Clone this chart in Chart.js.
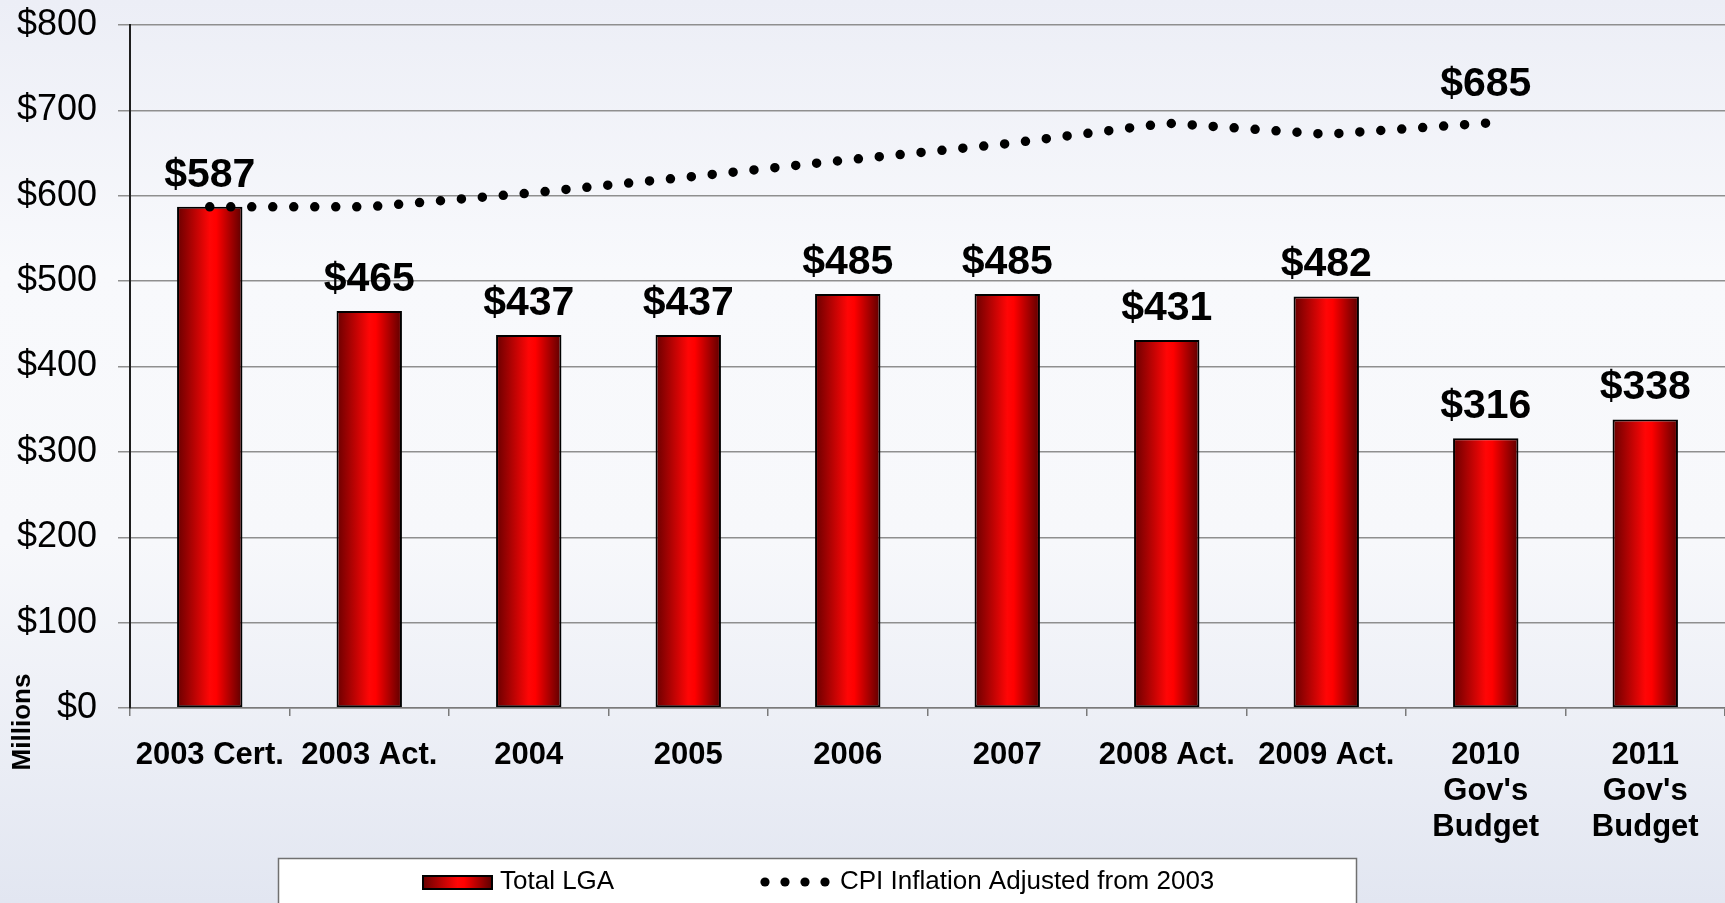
<!DOCTYPE html>
<html>
<head>
<meta charset="utf-8">
<title>Total LGA vs CPI Inflation</title>
<script src="https://cdn.jsdelivr.net/npm/chart.js@4.4.1/dist/chart.umd.min.js"></script>
<style>
  html, body { margin: 0; padding: 0; }
  body {
    width: 1725px;
    height: 903px;
    overflow: hidden;
    background: linear-gradient(to bottom, #eceef6 0%, #f8f9fc 30%, #f7f8fb 60%, #e2e6f1 100%);
  }
  #chartLGA { display: block; }
</style>
</head>
<body>
<canvas id="chartLGA" width="1725" height="903"></canvas>
<script>
const years = ['2003 Cert.', '2003 Act.', '2004', '2005', '2006', '2007', '2008 Act.', '2009 Act.',
    ['2010', "Gov's", 'Budget'], ['2011', "Gov's", 'Budget']];
const totalLGA = [587, 465, 437, 437, 485, 485, 431, 482, 316, 338];
const cpiAdjusted = [587, 587, 603, 622, 642, 661, 685, 672, 685, null];
const yTickLabels = ['$0', '$100', '$200', '$300', '$400', '$500', '$600', '$700', '$800'];

const fontFamily = "'Liberation Sans', Arial, Helvetica, sans-serif";
Chart.defaults.font.family = fontFamily;
Chart.defaults.color = '#000';

const barShare = 0.41;

function redGradient(ctx, x0, x1) {
    const g = ctx.createLinearGradient(x0, 0, x1, 0);
    g.addColorStop(0, '#6a0000');
    g.addColorStop(0.5, '#ff0606');
    g.addColorStop(0.6, '#ff0000');
    g.addColorStop(1, '#5c0000');
    return g;
}

function barFill(context) {
    const chart = context.chart;
    const xScale = chart.scales.x;
    if (!chart.chartArea || !xScale || context.dataIndex === undefined) {
        return '#ff0000';
    }
    const center = xScale.getPixelForValue(context.dataIndex);
    const half = xScale.width / years.length * barShare / 2;
    return redGradient(chart.ctx, center - half, center + half);
}

// value labels above bars and at the end of the CPI line
const valueLabels = {
    id: 'valueLabels',
    afterDatasetsDraw(chart) {
        const ctx = chart.ctx;
        ctx.save();
        ctx.font = 'bold 41px ' + fontFamily;
        ctx.fillStyle = '#000';
        ctx.textAlign = 'center';
        ctx.textBaseline = 'alphabetic';
        chart.getDatasetMeta(0).data.forEach(function (bar, i) {
            ctx.fillText('$' + totalLGA[i], bar.x, bar.y - 20);
        });
        let last = cpiAdjusted.length - 1;
        while (cpiAdjusted[last] === null) last--;
        const pt = chart.getDatasetMeta(1).data[last];
        ctx.fillText('$' + cpiAdjusted[last], pt.x, pt.y - 27);
        ctx.restore();
    }
};

// "Millions" unit label and the boxed legend at the bottom
const extras = {
    id: 'extras',
    afterDraw(chart) {
        const ctx = chart.ctx;
        ctx.save();
        ctx.translate(23, 722);
        ctx.rotate(-Math.PI / 2);
        ctx.font = 'bold 26px ' + fontFamily;
        ctx.fillStyle = '#000';
        ctx.textAlign = 'center';
        ctx.textBaseline = 'middle';
        ctx.fillText('Millions', 0, 0);
        ctx.restore();

        ctx.save();
        ctx.fillStyle = '#ffffff';
        ctx.fillRect(278, 858, 1078, 60);
        ctx.strokeStyle = '#707070';
        ctx.lineWidth = 1.5;
        ctx.strokeRect(278.5, 858.5, 1078, 60);

        ctx.fillStyle = redGradient(ctx, 423, 492);
        ctx.fillRect(423, 876, 69, 13);
        ctx.strokeStyle = '#000';
        ctx.lineWidth = 2;
        ctx.strokeRect(423, 876, 69, 13);

        ctx.fillStyle = '#000';
        for (let k = 0; k < 4; k++) {
            ctx.beginPath();
            ctx.arc(765 + k * 20, 882, 4.6, 0, Math.PI * 2);
            ctx.fill();
        }

        ctx.font = '26px ' + fontFamily;
        ctx.textAlign = 'left';
        ctx.textBaseline = 'middle';
        ctx.fillText(chart.data.datasets[0].label, 500, 882);
        ctx.fillText(chart.data.datasets[1].label, 840, 882);
        ctx.restore();
    }
};

const lgaChart = document.getElementById('chartLGA').getContext('2d');

new Chart(lgaChart, {
    type: 'bar',
    data: {
        labels: years,
        datasets: [{
            label: 'Total LGA',
            data: totalLGA,
            backgroundColor: barFill,
            borderColor: '#000',
            borderWidth: 2,
            borderSkipped: false,
            categoryPercentage: 1,
            barPercentage: barShare,
            order: 2
        }, {
            type: 'line',
            label: 'CPI Inflation Adjusted from 2003',
            data: cpiAdjusted,
            borderColor: '#000',
            borderWidth: 9.5,
            borderDash: [0, 21],
            borderCapStyle: 'round',
            pointRadius: 0,
            fill: false,
            tension: 0,
            order: 1
        }]
    },
    options: {
        responsive: false,
        animation: false,
        devicePixelRatio: 1,
        layout: {
            padding: { top: 25, right: 0, bottom: 45, left: 0 }
        },
        plugins: {
            legend: { display: false },
            tooltip: { enabled: false }
        },
        scales: {
            x: {
                grid: {
                    offset: true,
                    drawOnChartArea: false,
                    color: '#7a7a7a',
                    lineWidth: 1.5,
                    tickLength: 8
                },
                border: { color: '#7a7a7a', width: 1.5 },
                ticks: {
                    color: '#000',
                    font: { size: 31, weight: 'bold', lineHeight: 1.17 },
                    padding: 21,
                    maxRotation: 0,
                    autoSkip: false
                },
                afterFit(scale) {
                    scale.height = 150;
                }
            },
            y: {
                min: 0,
                max: 800,
                ticks: {
                    stepSize: 100,
                    color: '#000',
                    font: { size: 36 },
                    padding: 21,
                    callback: function (value, index) {
                        return yTickLabels[index];
                    }
                },
                grid: {
                    color: '#8f8f8f',
                    lineWidth: 1.5,
                    tickLength: 12
                },
                border: { color: '#1e1e1e', width: 2 },
                afterFit(scale) {
                    scale.width = 130;
                    scale.paddingTop = 0;
                    scale.paddingBottom = 0;
                }
            }
        }
    },
    plugins: [valueLabels, extras]
});
</script>
</body>
</html>
